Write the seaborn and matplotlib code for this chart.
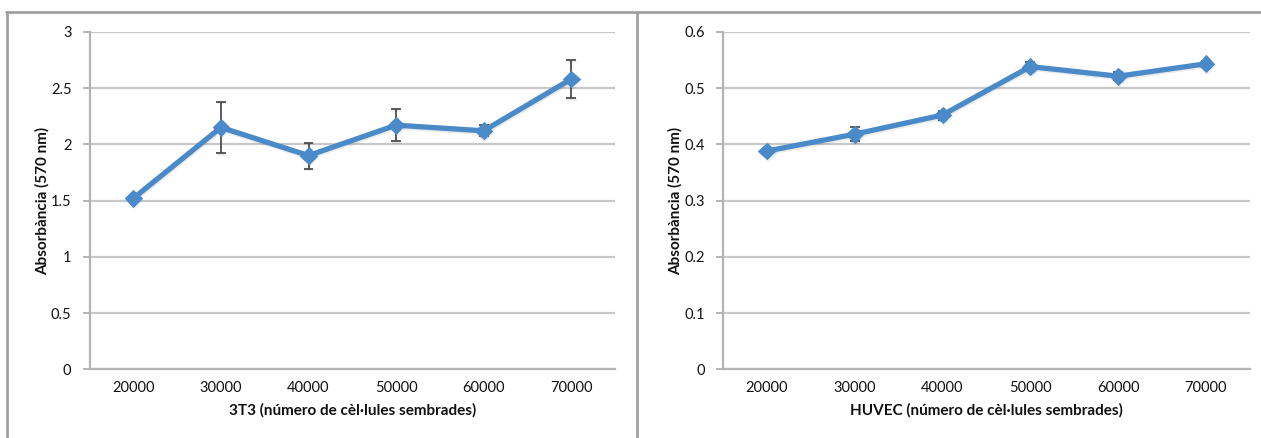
import matplotlib
matplotlib.use("Agg")
import matplotlib.pyplot as plt
import matplotlib.patheffects as pe
from matplotlib.lines import Line2D
from matplotlib.ticker import FixedLocator, FuncFormatter
import seaborn as sns
import pandas as pd

# Cells seeded per well
cells = ["20000", "30000", "40000", "50000", "60000", "70000"]

# 3T3 absorbance at 570 nm (mean and error)
abs_3t3 = [1.52, 2.15, 1.90, 2.17, 2.12, 2.58]
err_3t3 = [0.02, 0.23, 0.115, 0.14, 0.05, 0.17]

# HUVEC absorbance at 570 nm (mean and error)
abs_huvec = [0.388, 0.418, 0.452, 0.538, 0.521, 0.543]
err_huvec = [0.005, 0.013, 0.008, 0.008, 0.007, 0.005]

ylabel = "Absorbància (570 nm)"
xlabel_3t3 = "3T3 (número de cèl·lules sembrades)"
xlabel_huvec = "HUVEC (número de cèl·lules sembrades)"

sns.set_style("white")
plt.rcParams["font.family"] = ["Lato", "DejaVu Sans"]

LINE = "#4a8ac9"
GRID = "#c8c8c8"
AXIS = "#b4b4b4"
TEXT = "#111111"

fig = plt.figure(figsize=(12.61, 4.38), dpi=100)
ax1 = fig.add_axes([0.071, 0.1564, 0.4168, 0.7712])
ax2 = fig.add_axes([0.5733, 0.1564, 0.4179, 0.7712])


def draw(ax, vals, errs, ymax, step, xlabel):
    df = pd.DataFrame({"cells": cells, "abs": vals})
    ax.errorbar(cells, vals, yerr=errs, fmt="none", ecolor="#4d4d4d",
                elinewidth=1.3, capsize=3.5, capthick=1.3, zorder=2)
    sns.lineplot(data=df, x="cells", y="abs", ax=ax, color=LINE,
                 linewidth=3.8, marker="D", markersize=8.5,
                 markeredgecolor=LINE, sort=False, zorder=3)
    for ln in ax.lines:
        ln.set_path_effects([pe.SimpleLineShadow(offset=(0.5, -1.2), shadow_color="#000000",
                                                 alpha=0.08), pe.Normal()])
    ax.set_xlim(-0.5, len(cells) - 0.5)
    ax.set_ylim(0, ymax)
    n = int(round(ymax / step))
    yt = [i * step for i in range(n + 1)]
    ax.set_yticks(yt)
    ax.yaxis.set_major_formatter(FuncFormatter(lambda v, p: f"{v:.10g}"))
    ax.grid(axis="y", color=GRID, linewidth=1.6)
    ax.grid(axis="x", visible=False)
    ax.set_axisbelow(True)
    for s in ("top", "right"):
        ax.spines[s].set_visible(False)
    for s in ("left", "bottom"):
        ax.spines[s].set_color(AXIS)
        ax.spines[s].set_linewidth(1.6)
    ax.xaxis.set_minor_locator(FixedLocator([i - 0.5 for i in range(len(cells) + 1)]))
    ax.tick_params(axis="x", which="major", length=0, pad=8, labelsize=10.5, labelcolor=TEXT)
    ax.tick_params(axis="x", which="minor", length=5, width=1.4, color=AXIS, direction="out")
    ax.tick_params(axis="y", which="major", length=5, width=1.4, color=AXIS, direction="out",
                   pad=8, labelsize=10.5, labelcolor=TEXT, left=True)
    ax.set_xlabel(xlabel, fontsize=11, fontweight="bold", color=TEXT, labelpad=6)
    ax.set_ylabel(ylabel, fontsize=11, fontweight="bold", color=TEXT, labelpad=1)


draw(ax1, abs_3t3, err_3t3, 3.0, 0.5, xlabel_3t3)
draw(ax2, abs_huvec, err_huvec, 0.6, 0.1, xlabel_huvec)

# panel frame lines
frame = "#a0a0a0"
fig.add_artist(Line2D([6 / 1261, 1.0], [1 - 12 / 438] * 2, color=frame, linewidth=2,
                      transform=fig.transFigure))
fig.add_artist(Line2D([6.5 / 1261] * 2, [0, 1 - 12 / 438], color=frame, linewidth=2,
                      transform=fig.transFigure))
fig.add_artist(Line2D([636.5 / 1261] * 2, [0, 1 - 12 / 438], color=frame, linewidth=2,
                      transform=fig.transFigure))

fig.savefig("out.png", dpi=100, facecolor="white")
